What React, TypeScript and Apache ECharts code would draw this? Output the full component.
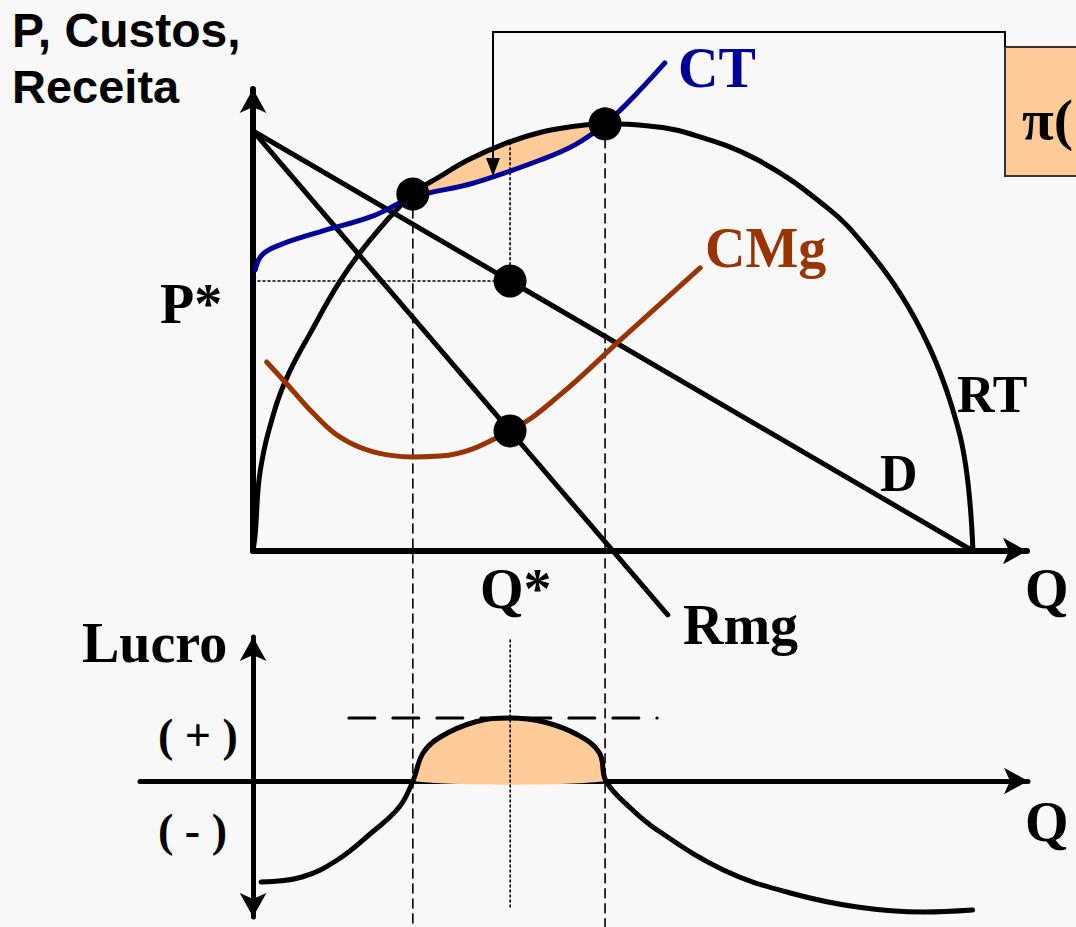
import React, { useEffect, useRef } from "react";
import * as echarts from "echarts";

// ---- data (Q, value) ----
const RT: [number, number][] = [
  [0, 0], [0.03, 0.4], [0.1, 1.9], [0.3, 3.35], [0.5, 4.24], [0.8, 5.2], [1.2, 6.4],
  [1.6, 7.35], [2.22, 8.5], [2.6, 8.92], [3, 9.32], [3.5, 9.7], [4, 9.97], [4.5, 10.12],
  [4.89, 10.17], [5.5, 10.12], [6, 9.97], [7, 9.32], [8, 8.14], [8.5, 7.26], [9, 6.1],
  [9.4, 4.83], [9.7, 3.47], [9.9, 2.02], [10, 0],
];
const CT: [number, number][] = [
  [0.03, 6.69], [0.125, 7.05], [0.375, 7.29], [0.93, 7.6], [1.67, 7.98], [2.22, 8.42],
  [3.06, 8.76], [3.99, 9.31], [4.47, 9.67], [4.89, 10.17], [5.31, 10.86], [5.72, 11.62],
];
const CMG: [number, number][] = [
  [0.19, 4.5], [0.51, 3.9], [0.83, 3.29], [1.21, 2.71], [1.67, 2.36], [2.22, 2.24],
  [2.6, 2.26], [3.57, 2.86], [4.26, 3.71], [5.1, 5.02], [6.21, 6.74],
];
const DEMAND: [number, number][] = [[0, 10], [10, 0]];
const RMG: [number, number][] = [[0, 10], [5.76, -1.52]];
const LUCRO: [number, number][] = [
  [0.11, -5.05], [0.68, -4.8], [1.17, -3.95], [1.64, -2.6], [2.03, -1.3], [2.22, 0],
  [2.36, 1.4], [2.6, 2.2], [3.08, 2.95], [3.56, 3.15], [4.04, 2.95], [4.51, 2.3],
  [4.81, 1.4], [4.9, 0], [5.24, -1.35], [5.61, -2.45], [6.53, -4.45], [7.46, -5.6],
  [8.39, -6.3], [9.31, -6.55], [9.99, -6.45],
];
const Q1 = 2.22;
const Q2 = 4.89;
const QSTAR = 3.57;
const PSTAR = 6.43;
const RMG_AT_QSTAR = 2.86;
const RT_AT_QSTAR = 9.72;
const RT_AT_Q1 = 8.5;
const RT_AT_Q2 = 10.17;
const LUCRO_MAX = 3.15;
const DOTS: [number, number][] = [[Q1, RT_AT_Q1], [Q2, RT_AT_Q2], [QSTAR, PSTAR], [QSTAR, RMG_AT_QSTAR]];

const ORANGE = "#FFCC99";
const BLUE = "#000099";
const BROWN = "#993300";
const SERIF = "'Liberation Serif', 'DejaVu Serif', serif";
const SANS = "'Liberation Sans', Arial, sans-serif";

function lineSeries(data: [number, number][], color: string, width: number, grid: number, type: any = "solid", smooth: number | boolean = false) {
  return {
    type: "line", xAxisIndex: grid, yAxisIndex: grid, data, showSymbol: false, symbol: "none",
    smooth, clip: false, silent: true, animation: false, z: 3,
    lineStyle: { color, width, type, cap: "round" },
  };
}

function axis(extra: any) {
  return {
    type: "value", axisTick: { show: false }, axisLabel: { show: false }, splitLine: { show: false },
    ...extra,
  };
}
const axisLine = (symbol: string[], onZero: boolean, width = 6) => ({
  show: true, onZero, symbol, symbolSize: [20, 24],
  lineStyle: { color: "#000", width },
});

function txt(text: string, x: number, y: number, font: string, fill = "#000", align = "left") {
  return { type: "text", x, y, z: 50, style: { text, font, fill, textAlign: align, textVerticalAlign: "middle" } };
}

export default function App() {
  const ref = useRef<HTMLDivElement>(null);
  useEffect(() => {
    const chart = echarts.init(ref.current as HTMLDivElement, null, { renderer: "svg" });
    const profitTop = RT.filter((p) => p[0] >= Q1 && p[0] <= Q2);
    const profitBottom = CT.filter((p) => p[0] >= Q1 && p[0] <= Q2).slice().reverse();
    const fillTop = profitTop.concat(profitBottom);
    const fillBottom = LUCRO.filter((p) => p[0] >= Q1 && p[0] <= 4.9);

    const polySeries = (pts: [number, number][], grid: number) => ({
      type: "custom", xAxisIndex: grid, yAxisIndex: grid, data: [[pts[0][0], pts[0][1]]], clip: false, silent: true, z: 1,
      renderItem: (_p: any, api: any) => ({
        type: "polygon",
        shape: { points: pts.map((p) => api.coord(p)), smooth: 0.2 },
        style: { fill: ORANGE, stroke: "none" },
      }),
    });

    chart.setOption({
      animation: false,
      backgroundColor: "#f8f8f8",
      grid: [
        { left: 253, top: 89, width: 774, height: 462 },
        { left: 140, top: 637, width: 888, height: 280 },
      ],
      xAxis: [
        axis({ gridIndex: 0, min: 0, max: 10.75, axisLine: axisLine(["none", "arrow"], false) }),
        axis({ gridIndex: 1, min: -1.57, max: 10.76, axisLine: axisLine(["none", "arrow"], true, 5) }),
      ],
      yAxis: [
        axis({ gridIndex: 0, min: 0, max: 11, axisLine: axisLine(["none", "arrow"], false) }),
        axis({ gridIndex: 1, min: -6.8, max: 7.2, axisLine: axisLine(["arrow", "arrow"], true, 5) }),
      ],
      series: [
        polySeries(fillTop, 0),
        polySeries(fillBottom, 1),
        lineSeries([[Q1, RT_AT_Q1], [Q1, -9]], "#000", 1.6, 0, [9, 6]),
        lineSeries([[Q2, RT_AT_Q2], [Q2, -9]], "#000", 1.6, 0, [9, 6]),
        lineSeries([[QSTAR, RT_AT_QSTAR], [QSTAR, PSTAR]], "#000", 1.6, 0, [2, 3]),
        lineSeries([[0, PSTAR], [QSTAR, PSTAR]], "#000", 1.6, 0, [2, 3]),
        lineSeries([[QSTAR, 7.05], [QSTAR, -6.45]], "#000", 1.6, 1, [2, 3]),
        lineSeries([[1.33, LUCRO_MAX], [5.61, LUCRO_MAX]], "#000", 3, 1, [26, 18]),
        lineSeries(DEMAND, "#000", 5, 0),
        lineSeries(RMG, "#000", 5, 0),
        lineSeries(RT, "#000", 5, 0, "solid", 0.4),
        lineSeries(CMG, BROWN, 5, 0, "solid", 0.4),
        lineSeries(CT, BLUE, 5, 0, "solid", 0.4),
        lineSeries(LUCRO, "#000", 5, 1, "solid", 0.4),
        {
          type: "scatter", xAxisIndex: 0, yAxisIndex: 0, data: DOTS, symbolSize: 33, silent: true, z: 5,
          itemStyle: { color: "#000", opacity: 1 },
        },
      ],
      graphic: [
        { type: "rect", z: 40, shape: { x: 1005, y: 47, width: 120, height: 129 }, style: { fill: ORANGE, stroke: "#333", lineWidth: 2 } },
        { type: "polyline", z: 40, shape: { points: [[1005, 47], [1005, 32], [493, 32], [493, 162]] }, style: { stroke: "#000", lineWidth: 2, fill: "none" } },
        { type: "polygon", z: 40, shape: { points: [[486, 158], [500, 158], [493, 176]] }, style: { fill: "#000" } },
        txt("π(", 1022, 119, `bold 58px ${SERIF}`),
        txt("P, Custos,", 12, 30, `bold 48px ${SANS}`),
        txt("Receita", 12, 86, `bold 47px ${SANS}`),
        txt("CT", 678, 68, `bold 56px ${SERIF}`, BLUE),
        txt("CMg", 705, 248, `bold 56px ${SERIF}`, BROWN),
        txt("P*", 160, 304, `bold 56px ${SERIF}`),
        txt("RT", 957, 394, `bold 52px ${SERIF}`),
        txt("D", 880, 473, `bold 52px ${SERIF}`),
        txt("Q*", 480, 589, `bold 56px ${SERIF}`),
        txt("Q", 1025, 589, `bold 56px ${SERIF}`),
        txt("Rmg", 683, 625, `bold 56px ${SERIF}`),
        txt("Lucro", 82, 643, `bold 56px ${SERIF}`),
        txt("( + )", 158, 735, `bold 46px ${SERIF}`),
        txt("( - )", 158, 830, `bold 46px ${SERIF}`),
        txt("Q", 1025, 822, `bold 56px ${SERIF}`),
      ],
    });
    return () => chart.dispose();
  }, []);
  return (
    <div
      ref={ref}
      style={{ position: "fixed", left: 0, top: 0, width: 1076, height: 927, background: "#f8f8f8" }}
    />
  );
}
